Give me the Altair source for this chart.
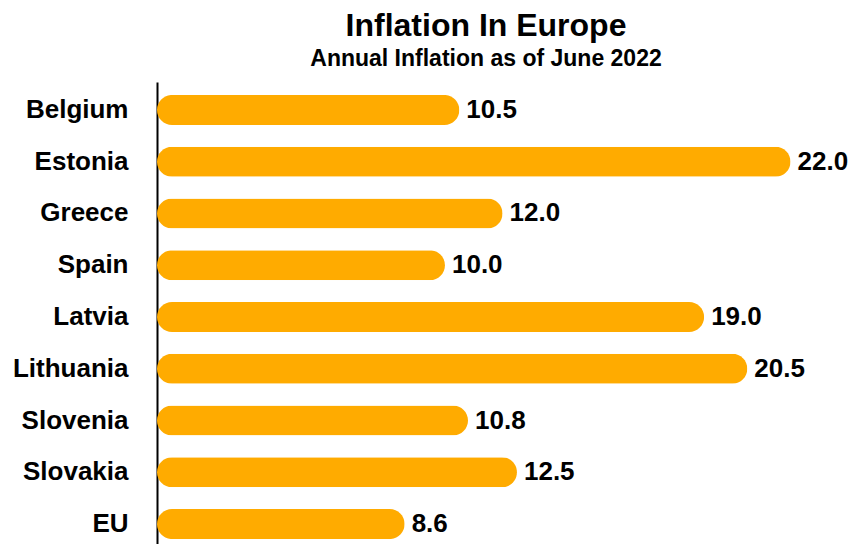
import altair as alt
import pandas as pd

countries = ["Belgium", "Estonia", "Greece", "Spain", "Latvia", "Lithuania", "Slovenia", "Slovakia", "EU"]
inflation = [10.5, 22.0, 12.0, 10.0, 19.0, 20.5, 10.8, 12.5, 8.6]

df = pd.DataFrame({"country": countries, "value": inflation})
FONT = "Liberation Sans"

base = alt.Chart(df).encode(
    y=alt.Y("country:N", sort=countries, title=None,
            scale=alt.Scale(paddingInner=0.42, paddingOuter=0.25),
            axis=alt.Axis(domain=True, domainColor="black", domainWidth=2, ticks=False,
                          labelFont=FONT, labelFontSize=26, labelFontWeight="bold",
                          labelColor="black", labelPadding=29, grid=False)),
    x=alt.X("value:Q", title=None, scale=alt.Scale(domain=[0, 22.85], nice=False),
            axis=None),
)

bars = base.mark_bar(color="#FFAB00", size=30, cornerRadius=15)
labels = base.mark_text(align="left", baseline="middle", dx=7, font=FONT,
                        fontSize=26, fontWeight="bold", color="black").encode(
    text=alt.Text("value:Q", format=".1f"))

chart = (bars + labels).properties(
    width=658, height=470,
    background="white",
    padding={"left": 12, "top": 10, "right": 0, "bottom": 0},
    title=alt.TitleParams("Inflation In Europe", subtitle="Annual Inflation as of June 2022",
                          font=FONT, fontSize=32, fontWeight="bold", color="black",
                          subtitleFont=FONT, subtitleFontSize=23, subtitleFontWeight="bold",
                          subtitleColor="black", anchor="middle", offset=10, subtitlePadding=5),
).configure_view(strokeWidth=0, stroke=None)

chart.save("out.html", embed_options={"renderer": "svg", "actions": False})
